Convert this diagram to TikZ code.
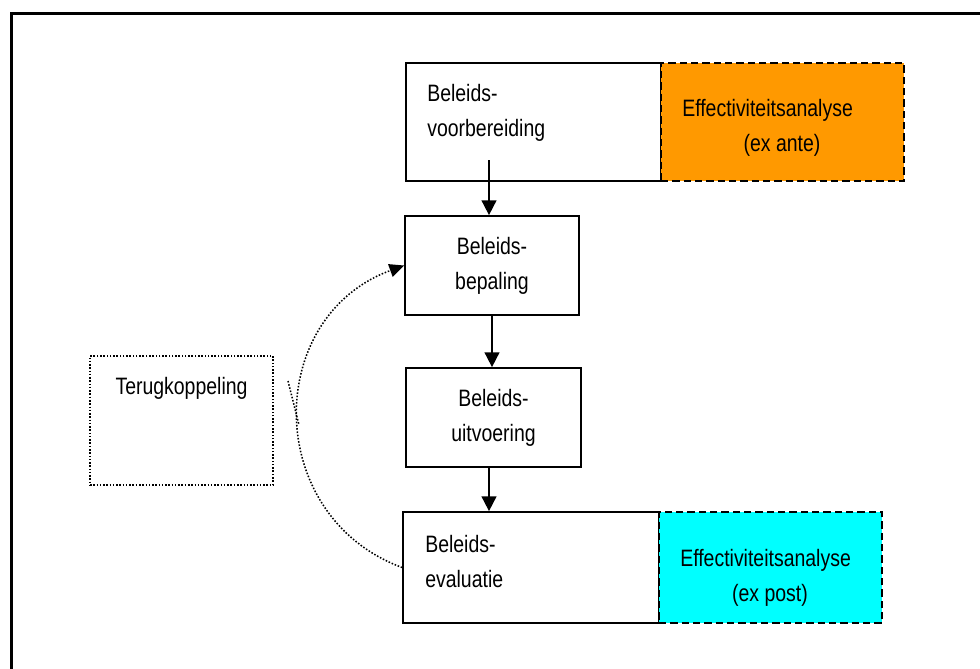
\documentclass[tikz,border=0pt]{standalone}
\usepackage{fontspec}
\setmainfont{Liberation Sans}[FakeStretch=0.82]
\usetikzlibrary{arrows.meta}

\begin{document}
\begin{tikzpicture}[x=0.75pt,y=0.75pt,yscale=-1,xscale=1,
  box/.style={draw,line width=1.3pt,inner sep=0pt,align=center,font=\fontsize{17.8}{26.25}\selectfont},
  effbox/.style={draw,line width=1.7pt,dash pattern={on 5.5pt off 3pt},inner sep=0pt},
  txt/.style={inner sep=0pt,align=left,font=\fontsize{17.8}{26.25}\selectfont},
  flow/.style={line width=1.3pt,-{Triangle[length=11pt,width=11pt]}},
  feedback/.style={line width=1.15pt,dash pattern={on 1.15pt off 1.3pt}}]
\useasboundingbox (0,0) rectangle (980,668);
\clip (0,0) rectangle (980,668);

%Outer frame
\draw [line width=2.25pt] (11,13) rectangle (1000,700);

%Policy boxes
\node [box,minimum width=191.25pt,minimum height=88.5pt] (voorbereiding) at (533.5,122) {};
\node [effbox,fill={rgb,255:red,255;green,153;blue,0},minimum width=182.25pt,minimum height=88.5pt] (exante) at (782.5,122) {};
\node [box,minimum width=130.5pt,minimum height=74.25pt] (bepaling) at (492,265.5) {Beleids-\\bepaling};
\node [box,minimum width=131.25pt,minimum height=74.25pt] (uitvoering) at (493.5,417.5) {Beleids-\\uitvoering};
\node [box,minimum width=192pt,minimum height=83.25pt] (evaluatie) at (531,567.5) {};
\node [effbox,fill={rgb,255:red,0;green,255;blue,255},minimum width=167.25pt,minimum height=83.25pt] (expost) at (770.5,567.5) {};
%Feedback box
\node [feedback,draw,inner sep=0pt,minimum width=137.25pt,minimum height=96.75pt] (terug) at (181.5,420.5) {};

% Text Node
\node [txt,anchor=west] (voorbereidingT) at (427,112.5) {Beleids-\\voorbereiding};
% Text Node
\node [txt,anchor=west] (exanteT) at (682,110) {Effectiviteitsanalyse};
% Text Node
\node [txt] (exanteS) at (782,145) {(ex ante)};
% Text Node
\node [txt,anchor=west] (evaluatieT) at (425,561.5) {Beleids-\\evaluatie};
% Text Node
\node [txt,anchor=west] (expostT) at (680,560) {Effectiviteitsanalyse};
% Text Node
\node [txt] (expostS) at (770,595) {(ex post)};
% Text Node
\node [txt] (terugT) at (181.5,388) {Terugkoppeling};

%Flow arrows
\coordinate (start) at (489,160);
\draw [flow] (start) -- (start |- bepaling.north);
\draw [flow] (bepaling.south) -- (bepaling.south |- uitvoering.north);
\draw [flow] (uitvoering.south -| start) -- (start |- evaluatie.north);

%Feedback curve
\draw [feedback,-{Triangle[length=11pt,width=10pt]}] (evaluatie.west) .. controls (263,516) and (263,317) .. (bepaling.west);
\coordinate (tickA) at (288,381);
\coordinate (tickB) at (299,425);
\draw [feedback] (tickA) -- (tickB);

\end{tikzpicture}
\end{document}
